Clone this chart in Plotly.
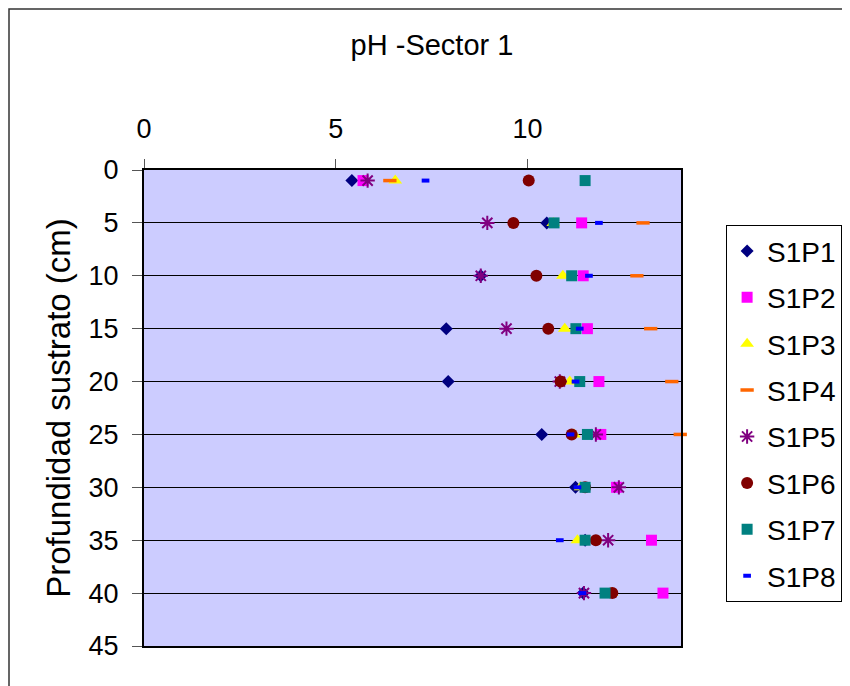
import plotly.graph_objects as go

depths = [1, 5, 10, 15, 20, 25, 30, 35, 40]
S1P1 = [5.42, 10.5, 8.78, 7.88, 7.93, 10.37, 11.25, 11.5, 11.45]
S1P2 = [5.71, 11.41, 11.45, 11.56, 11.86, 11.91, 12.32, 13.23, 13.53]
S1P3 = [6.55, 10.67, 10.92, 10.97, 11.1, 11.21, 11.38, 11.3, 12.19]
S1P4 = [6.41, 13.01, 12.85, 13.21, 13.76, 13.98, None, None, None]
S1P5 = [5.83, 8.95, 8.78, 9.45, 10.84, 11.78, 12.38, 12.1, 11.47]
S1P6 = [10.03, 9.63, 10.23, 10.54, 10.86, 11.15, 11.5, 11.78, 12.21]
S1P7 = [11.5, 10.69, 11.15, 11.26, 11.36, 11.56, 11.5, 11.5, 12.02]
S1P8 = [7.34, 11.86, 11.6, 11.36, 11.25, 11.12, 11.3, 10.84, 11.43]

series = [
    ("S1P1", S1P1, dict(symbol="diamond", size=10, color="#000080")),
    ("S1P2", S1P2, dict(symbol="square", size=11, color="#FF00FF")),
    ("S1P3", S1P3, dict(symbol="triangle-up", size=12, color="#FFFF00")),
    ("S1P4", S1P4, dict(symbol="line-ew", size=9.5, color="#FF6600", line=dict(color="#FF6600", width=3.5))),
    ("S1P5", S1P5, dict(symbol="asterisk", size=12, color="#800080", line=dict(color="#800080", width=2))),
    ("S1P6", S1P6, dict(symbol="circle", size=12, color="#800000")),
    ("S1P7", S1P7, dict(symbol="square", size=11, color="#008080")),
    ("S1P8", S1P8, dict(symbol="line-ew", size=5.5, color="#0000FF", line=dict(color="#0000FF", width=4))),
]

FONT = "Liberation Sans, Arial, sans-serif"

fig = go.Figure()
for name, vals, mk in series:
    fig.add_trace(go.Scatter(
        x=vals, y=depths, mode="markers", name=name, marker=mk,
        legendgroup=name, cliponaxis=False,
    ))

fig.update_layout(
    width=850, height=686,
    margin=dict(l=136, r=177, t=162, b=48),
    paper_bgcolor="white",
    plot_bgcolor="#CCCCFF",
    font=dict(family=FONT, size=26, color="black"),
    title=dict(text="pH -Sector 1", x=424 / 850, xanchor="center", xref="container",
               y=1 - 37 / 686, yanchor="middle", yref="container",
               font=dict(family=FONT, size=29)),
    legend=dict(x=1.084, y=0.884, xanchor="left", yanchor="top",
                bordercolor="#000000", borderwidth=1, bgcolor="white",
                font=dict(family=FONT, size=28), tracegroupgap=7),
    showlegend=True,
)

fig.update_xaxes(
    range=[0, 14], side="top", tickvals=[0, 5, 10], ticktext=["0", "5", "10"],
    showgrid=False, zeroline=False, showline=True, linecolor="black", linewidth=2,
    mirror=True, ticks="outside", ticklen=9, tickcolor="#555555",
    ticklabelstandoff=10, tickfont=dict(family=FONT, size=27),
)
fig.update_yaxes(
    range=[45, 0], tickvals=[0, 5, 10, 15, 20, 25, 30, 35, 40, 45],
    showgrid=True, gridcolor="black", gridwidth=1, zeroline=False,
    showline=True, linecolor="black", linewidth=2, mirror=True,
    ticks="outside", ticklen=10, tickcolor="#555555", ticklabelstandoff=8,
    tickfont=dict(family=FONT, size=27),
    title=dict(text="Profundidad sustrato (cm)", font=dict(family=FONT, size=33), standoff=8),
)

# outer chart border
fig.add_shape(type="rect", xref="paper", yref="paper",
              x0=(9 - 144) / 537, x1=(900 - 144) / 537,
              y0=(646 - 700) / 476, y1=(646 - 9) / 476,
              line=dict(color="#333333", width=1.5), fillcolor="rgba(0,0,0,0)", layer="below")

fig.write_html("out.html")
